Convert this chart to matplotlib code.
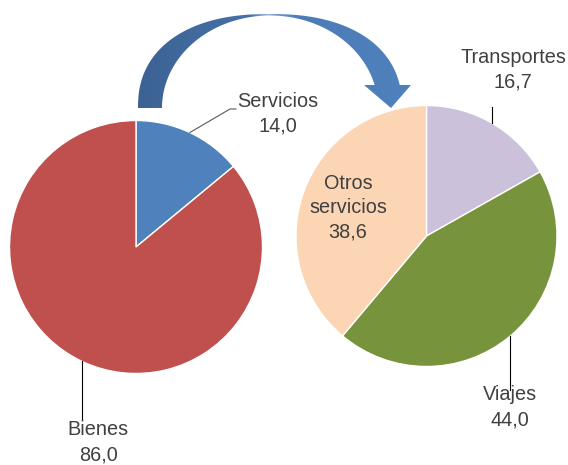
import numpy as np
import matplotlib
matplotlib.use("Agg")
import matplotlib.pyplot as plt
from matplotlib.path import Path
from matplotlib.patches import PathPatch

# ---- data ----
left_labels = ["Servicios", "Bienes"]
left_values = [14.0, 86.0]
right_labels = ["Transportes", "Viajes", "Otros\nservicios"]
right_values = [16.7, 44.0, 38.6]

left_colors = ["#4F81BD", "#C0504D"]
right_colors = ["#CCC1DA", "#77933C", "#FCD5B5"]
TXT = "#404040"

W, H = 568, 465
plt.rcParams['font.family'] = ['Liberation Sans', 'DejaVu Sans']
fig = plt.figure(figsize=(W / 100, H / 100), dpi=100)
ax = fig.add_axes([0, 0, 1, 1])


def Y(p):
    return H - p


def fmt(v):
    return f"{v:.1f}".replace(".", ",")


wp = dict(edgecolor="white", linewidth=1.0)
wl, _ = ax.pie(left_values, colors=left_colors, startangle=90, counterclock=False,
               center=(136, Y(247)), radius=126.5, wedgeprops=wp)
wr, _ = ax.pie(right_values, colors=right_colors, startangle=90, counterclock=False,
               center=(426.5, Y(236)), radius=130.5, wedgeprops=wp)


def mid(w):
    a = np.deg2rad((w.theta1 + w.theta2) / 2)
    return w.center[0] + w.r * np.cos(a), w.center[1] + w.r * np.sin(a)


# ---- curved arrow (decoration) ----
cx, cy = 270, 108


def superarc(a, b, p, yend):
    th = np.linspace(np.pi, 0, 600)
    c, s = np.cos(th), np.sin(th)
    xs = cx + a * np.sign(c) * np.abs(c) ** (2 / p)
    ys = cy - b * np.abs(s) ** (2 / p)
    keep = ~((xs > cx) & (ys > yend))
    return xs[keep], ys[keep]


ox, oy = superarc(132, 94, 2.3, 85)
ix, iy = superarc(108, 92.5, 2.0, 85)
px = list(ox) + [ox[-1], 411, 391, 364, ix[-1]] + list(ix[::-1])
py = list(oy) + [85, 85, 108, 85, 85] + list(iy[::-1])
verts = [(x, Y(y)) for x, y in zip(px, py)]
verts.append(verts[0])
codes = [Path.MOVETO] + [Path.LINETO] * (len(verts) - 2) + [Path.CLOSEPOLY]
arrow_path = Path(verts, codes)
patch = PathPatch(arrow_path, facecolor="none", edgecolor="none", transform=ax.transData)
ax.add_patch(patch)

gx = np.linspace(136, 413, 400)
stops_x = [136, 250, 268, 276, 300, 413]
stops_c = np.array([[60, 98, 146], [70, 113, 168], [150, 185, 225],
                    [110, 150, 205], [76, 124, 184], [79, 129, 189]]) / 255.0
grad = np.stack([np.interp(gx, stops_x, stops_c[:, k]) for k in range(3)], axis=-1)
grad = grad[None, :, :]
im = ax.imshow(grad, extent=[136, 413, Y(110), Y(12)], aspect="auto", zorder=3,
               interpolation="bilinear")
im.set_clip_path(patch)

# ---- leader lines ----
mx, my = mid(wl[0])
ax.plot([mx, 230, 236], [my, Y(109), Y(109)], color="#595959", lw=0.8, zorder=4)
mx, my = mid(wl[1])
ax.plot([mx, mx], [my, Y(419)], color="black", lw=0.8, zorder=4)
mx, my = mid(wr[0])
ax.plot([mx, mx], [my, Y(107)], color="black", lw=0.8, zorder=4)
mx, my = mid(wr[1])
ax.plot([mx, mx], [my, Y(390)], color="black", lw=0.8, zorder=4)

# ---- labels (y = baseline of last line, in pixels) ----
fs = 14.3
def lab(x, ybase, name, val):
    ax.text(x, Y(ybase), f"{name}\n{fmt(val)}", ha="center", va="baseline",
            fontsize=fs, color=TXT, linespacing=1.38, zorder=5, multialignment="center")

lab(278, 132, left_labels[0], left_values[0])
lab(98, 460, left_labels[1], left_values[1])
lab(513, 88, right_labels[0], right_values[0])
lab(510, 425, right_labels[1], right_values[1])
lab(348, 238, right_labels[2], right_values[2])

ax.set_xlim(0, W)
ax.set_ylim(0, H)
ax.set_aspect("auto")
ax.axis("off")
fig.savefig("out.png", dpi=100)
